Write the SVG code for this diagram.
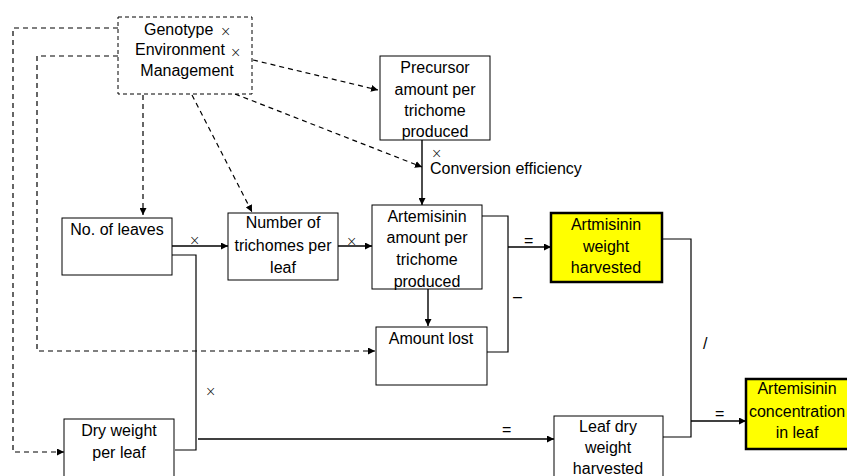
<svg xmlns="http://www.w3.org/2000/svg" width="847" height="476" viewBox="0 0 847 476">
<defs>
<marker id="ah" viewBox="0 0 10 10" refX="10" refY="5" markerWidth="7" markerHeight="7" markerUnits="userSpaceOnUse" orient="auto"><path d="M0,0 L10,5 L0,10 z" fill="#000"/></marker>
<style>
text{font-family:"Liberation Sans",Arial,sans-serif;font-size:16px;fill:#000}
.c{text-anchor:middle}
.x{font-family:"DejaVu Sans",sans-serif;font-size:13.5px;font-weight:200}
.box{fill:#fff;stroke:#000;stroke-width:1}
.dbox{fill:#fff;stroke:#000;stroke-width:1;stroke-dasharray:4,3}
.ybox{fill:#ffff00;stroke:#000;stroke-width:2.5}
.ln{fill:none;stroke:#000;stroke-width:1.2}
.ar{fill:none;stroke:#000;stroke-width:1.4;marker-end:url(#ah)}
.dar{fill:none;stroke:#000;stroke-width:1.2;stroke-dasharray:5,4;marker-end:url(#ah)}
</style>
</defs>
<rect width="847" height="476" fill="#fff"/>
<g id="connectors">
<path class="dar" d="M118,28 H13 V452 H64"/>
<path class="dar" d="M118,56 H37 V351 H375"/>
<path class="dar" d="M143,95 V215"/>
<path class="dar" d="M192,95 L252,212"/>
<path class="dar" d="M253,60 L378,90"/>
<path class="dar" d="M235,94 L422,167"/>
<path class="ar" d="M422,140 V205"/>
<path class="ar" d="M172,246 H228"/>
<path class="ln" d="M172,255 H196 V450 H175"/>
<path class="ar" d="M198,439 H554"/>
<path class="ar" d="M338,246 H372"/>
<path class="ln" d="M482,216 H508 V352 H487"/>
<path class="ar" d="M508,247 H551"/>
<path class="ar" d="M428,289 V326"/>
<path class="ln" d="M662,239 H691 V437 H663"/>
<path class="ar" d="M691,421 H746"/>
</g>
<g id="genotype">
<rect class="dbox" x="118" y="17" width="134" height="77"/>
<text x="144" y="35">Genotype</text><text class="x" x="220" y="36">×</text>
<text x="135" y="55">Environment</text><text class="x" x="230" y="57">×</text>
<text class="c" x="187" y="76">Management</text>
</g>
<g id="precursor">
<rect class="box" x="380" y="56" width="110" height="84"/>
<text class="c" x="435" y="73">Precursor</text>
<text class="c" x="435" y="95">amount per</text>
<text class="c" x="435" y="116">trichome</text>
<text class="c" x="435" y="137">produced</text>
</g>
<g id="conversion">
<text class="x" x="431" y="158">×</text>
<text x="430" y="174">Conversion efficiency</text>
</g>
<g id="leaves">
<rect class="box" x="62" y="218" width="110" height="57"/>
<text class="c" x="117" y="235">No. of leaves</text>
<text class="x" x="189" y="245">×</text>
</g>
<g id="trichomes">
<rect class="box" x="228" y="213" width="110" height="67"/>
<text class="c" x="283" y="228">Number of</text>
<text class="c" x="283" y="251">trichomes per</text>
<text class="c" x="283" y="273">leaf</text>
<text class="x" x="346" y="246">×</text>
</g>
<g id="artemisinin-amount">
<rect class="box" x="372" y="205" width="110" height="84"/>
<text class="c" x="427" y="222">Artemisinin</text>
<text class="c" x="427" y="243">amount per</text>
<text class="c" x="427" y="265">trichome</text>
<text class="c" x="427" y="287">produced</text>
</g>
<g id="amount-lost">
<rect class="box" x="376" y="327" width="111" height="58"/>
<text class="c" x="431" y="344">Amount lost</text>
<text x="513" y="302">–</text>
</g>
<g id="weight-harvested">
<text x="524" y="246">=</text>
<rect class="ybox" x="551" y="213" width="111" height="69"/>
<text class="c" x="606" y="230">Artmisinin</text>
<text class="c" x="606" y="252">weight</text>
<text class="c" x="606" y="273">harvested</text>
</g>
<g id="dry-weight">
<rect class="box" x="64" y="419" width="110" height="70"/>
<text class="c" x="119" y="436">Dry weight</text>
<text class="c" x="119" y="458">per leaf</text>
<text class="x" x="205" y="396">×</text>
</g>
<g id="leaf-dry">
<text x="502" y="435">=</text>
<rect class="box" x="554" y="416" width="109" height="70"/>
<text class="c" x="608" y="432">Leaf dry</text>
<text class="c" x="608" y="453">weight</text>
<text class="c" x="608" y="474">harvested</text>
</g>
<g id="concentration">
<text x="703" y="349">/</text>
<text x="715" y="419">=</text>
<rect class="ybox" x="746" y="379" width="110" height="70"/>
<text class="c" x="797" y="394">Artemisinin</text>
<text class="c" x="797" y="417">concentration</text>
<text class="c" x="797" y="438">in leaf</text>
</g>
</svg>
